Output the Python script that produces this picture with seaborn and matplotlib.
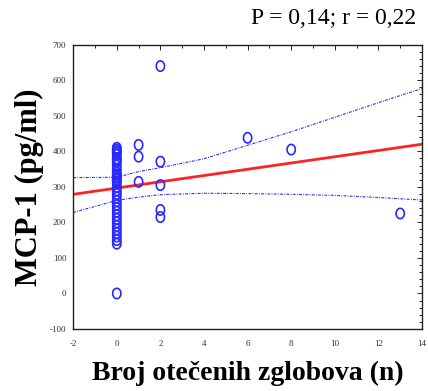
import numpy as np
import pandas as pd
import matplotlib
matplotlib.use("Agg")
import matplotlib.pyplot as plt
from matplotlib.path import Path
from matplotlib.ticker import MultipleLocator
import seaborn as sns

# ---- data ----
x0_vals = [410, 405, 400, 395, 390, 380, 375, 370, 360, 350, 340, 335, 330, 325,
           320, 315, 310, 300, 290, 280, 270, 260, 250, 240, 230, 220, 210, 200,
           190, 180, 170, 160, 150, 140, 0]
swollen = [0] * len(x0_vals) + [1, 1, 1, 2, 2, 2, 2, 2, 6, 8, 13]
mcp1 = x0_vals + [418, 385, 314, 640, 371, 305, 235, 215, 438, 405, 225]

fit_x = [-2, 14]
fit_y = [279, 420]

ci_x = [-2, 0, 1, 2, 4, 6, 8, 10, 12, 14]
ci_upper = [326, 327, 343, 354, 379, 417, 455, 496, 537, 577]
ci_lower = [228, 262, 271, 278, 282, 281, 279, 276, 270, 263]

x_ticks = [-2, 0, 2, 4, 6, 8, 10, 12, 14]
y_ticks = [-100, 0, 100, 200, 300, 400, 500, 600, 700]

df = pd.DataFrame({"x": swollen, "y": mcp1})
fit_df = pd.DataFrame({"x": fit_x, "y": fit_y})
ci_df = pd.DataFrame({"x": ci_x, "up": ci_upper, "lo": ci_lower})

sns.set_style("white")
plt.rcParams["font.family"] = ["Liberation Serif", "DejaVu Serif"]

fig = plt.figure(figsize=(4.28, 3.91), dpi=100)
ax = fig.add_axes([0.171, 0.1586, 0.815, 0.727])

blue = "#2828ff"
dash = (0, (2.5, 1.2, 0.8, 1.2))
sns.lineplot(data=ci_df, x="x", y="up", ax=ax, color=blue, lw=0.8,
             linestyle=dash, estimator=None, sort=True)
sns.lineplot(data=ci_df, x="x", y="lo", ax=ax, color=blue, lw=0.8,
             linestyle=dash, estimator=None, sort=True)
sns.lineplot(data=fit_df, x="x", y="y", ax=ax, color="#ff2222", lw=2.0,
             estimator=None)

t = np.linspace(0, 2 * np.pi, 40)
ell = Path(np.column_stack([0.8 * np.cos(t), np.sin(t)]), closed=True)
sns.scatterplot(data=df, x="x", y="y", ax=ax, marker=ell, s=55,
                facecolor="none", edgecolor=blue, linewidth=1.2, zorder=5)

ax.set_xlim(-2, 14)
ax.set_ylim(-100, 700)
ax.set_xticks(x_ticks)
ax.set_yticks(y_ticks)
ax.set_xticklabels([str(v) for v in x_ticks])
ax.set_yticklabels([str(v) for v in y_ticks])
ax.xaxis.set_minor_locator(MultipleLocator(1))
ax.yaxis.set_minor_locator(MultipleLocator(20))
ax.tick_params(which="both", direction="in", top=True, right=True,
               color="#222222", width=0.7)
ax.tick_params(which="major", length=3.5, labelsize=6.5, labelcolor="#333333")
ax.tick_params(axis="x", which="major", pad=8)
ax.tick_params(axis="y", which="major", pad=5)
ax.tick_params(which="minor", length=2)
for s in ax.spines.values():
    s.set_color("#222222")
    s.set_linewidth(1.0)

ax.set_xlabel("Broj otečenih zglobova (n)", fontsize=20, fontweight="bold",
              labelpad=9, color="black")
ax.set_ylabel("MCP-1 (pg/ml)", fontsize=22, fontweight="bold", labelpad=4,
              color="black")

fig.text(0.972, 0.952, "P = 0,14; r = 0,22", fontsize=17, ha="right",
         va="center", color="black")

fig.savefig("out.png", dpi=100)
